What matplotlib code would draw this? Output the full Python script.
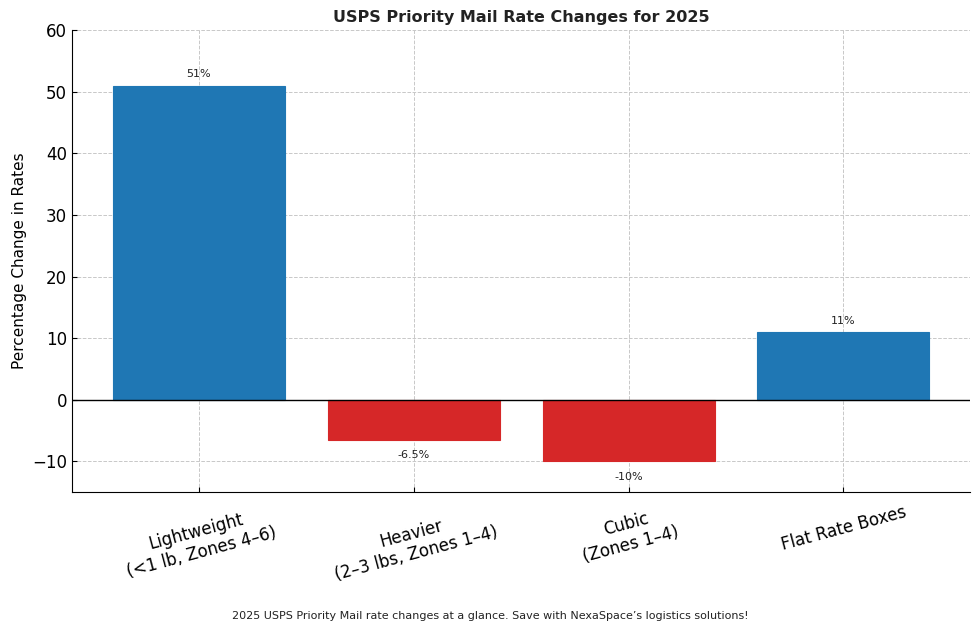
import numpy as np
import matplotlib.pyplot as plt

# Data
categories = ['Lightweight\n(<1 lb, Zones 4–6)', 'Heavier\n(2–3 lbs, Zones 1–4)',
              'Cubic\n(Zones 1–4)', 'Flat Rate Boxes']
changes = [51, -6.5, -10, 11]
labels = ['51%', '-6.5%', '-10%', '11%']

fig = plt.figure(figsize=(9.8, 6.3), dpi=100)
ax = fig.add_axes([0.0735, 0.219, 0.9165, 0.733])

colors = ['#1f77b4' if v > 0 else '#d62728' for v in changes]
x = np.arange(len(categories))
ax.bar(x, changes, width=0.8, color=colors, edgecolor=colors, linewidth=0.8, zorder=2)

# value labels above / below bars
for xi, v, lab in zip(x, changes, labels):
    if v > 0:
        ax.text(xi, v + 1, lab, ha='center', va='bottom', fontsize=8, color='#222222')
    else:
        ax.text(xi, v - 1.7, lab, ha='center', va='top', fontsize=8, color='#222222')

ax.axhline(0, color='black', linewidth=1, zorder=3)
ax.set_xlim(-0.59, 3.59)
ax.set_ylim(-15, 60)
ax.set_xticks(x)
ax.set_xticklabels(categories, rotation=15, fontsize=12)
ax.tick_params(axis='both', direction='in', labelsize=12)
ax.tick_params(axis='x', pad=8)
ax.set_ylabel('Percentage Change in Rates', fontsize=11)
ax.set_title('USPS Priority Mail Rate Changes for 2025', fontsize=11.5, fontweight='bold', color='#222222')
ax.grid(True, linestyle='--', color='#c8c8c8', linewidth=0.7, zorder=0)
ax.set_axisbelow(True)
ax.spines['top'].set_visible(False)
ax.spines['right'].set_visible(False)

fig.text(0.5, 0.018, "2025 USPS Priority Mail rate changes at a glance. Save with NexaSpace’s logistics solutions!",
         ha='center', fontsize=8, color='#222222')

fig.savefig('out.png', dpi=100)
